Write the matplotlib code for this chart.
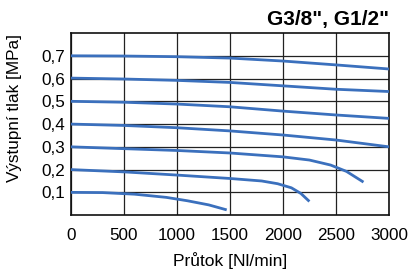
import matplotlib.pyplot as plt
from matplotlib.ticker import FuncFormatter

plt.rcParams['font.family'] = ['Liberation Sans', 'DejaVu Sans']

LINE_COLOR = '#3b70bd'

# flow [Nl/min] and outlet pressure [MPa] for each set pressure
flow_07 = [0, 500, 1000, 1500, 2000, 2500, 3000]
pres_07 = [0.700, 0.699, 0.696, 0.690, 0.677, 0.660, 0.642]

flow_06 = [0, 500, 1000, 1500, 2000, 2500, 3000]
pres_06 = [0.602, 0.598, 0.592, 0.583, 0.568, 0.553, 0.543]

flow_05 = [0, 500, 1000, 1500, 2000, 2500, 3000]
pres_05 = [0.500, 0.496, 0.488, 0.476, 0.457, 0.440, 0.425]

flow_04 = [0, 500, 1000, 1500, 2000, 2500, 3000]
pres_04 = [0.400, 0.394, 0.384, 0.370, 0.352, 0.330, 0.300]

flow_03 = [0, 500, 1000, 1500, 2000, 2250, 2450, 2600, 2760]
pres_03 = [0.300, 0.292, 0.284, 0.273, 0.256, 0.242, 0.220, 0.192, 0.145]

flow_02 = [0, 500, 1000, 1500, 1800, 1950, 2080, 2170, 2250]
pres_02 = [0.200, 0.190, 0.176, 0.161, 0.150, 0.138, 0.120, 0.095, 0.060]

flow_01 = [0, 300, 600, 900, 1100, 1300, 1470]
pres_01 = [0.100, 0.099, 0.092, 0.078, 0.063, 0.045, 0.023]

SERIES = [(flow_07, pres_07), (flow_06, pres_06), (flow_05, pres_05),
          (flow_04, pres_04), (flow_03, pres_03), (flow_02, pres_02),
          (flow_01, pres_01)]

x_ticks = [0, 500, 1000, 1500, 2000, 2500, 3000]
y_ticks = [0.1, 0.2, 0.3, 0.4, 0.5, 0.6, 0.7]

fig = plt.figure(figsize=(4.12, 2.73), dpi=100)
ax = fig.add_axes([0.172, 0.212, 0.772, 0.667])

for flow, pres in SERIES:
    ax.plot(flow, pres, color=LINE_COLOR, linewidth=2.0,
            solid_capstyle='butt', solid_joinstyle='round', zorder=3)

ax.set_xlim(0, 3000)
ax.set_ylim(0, 0.8)
ax.set_xticks(x_ticks)
ax.set_yticks(y_ticks)
ax.yaxis.set_major_formatter(FuncFormatter(lambda v, _: f'{v:.1f}'.replace('.', ',')))
ax.tick_params(length=0, labelsize=12.3)
ax.tick_params(axis='x', pad=9)
ax.tick_params(axis='y', pad=4)
ax.grid(True, color='#222222', linewidth=0.9)
for s in ax.spines.values():
    s.set_color('#111111')
    s.set_linewidth(1.2)

ax.set_xlabel('Průtok [Nl/min]', fontsize=12.5)
ax.xaxis.set_label_coords(0.5, -0.205)
ax.set_ylabel('Výstupní tlak [MPa]', fontsize=12.3)
ax.yaxis.set_label_coords(-0.155, 0.59)
ax.set_title('G3/8", G1/2"', fontsize=15, fontweight='bold', loc='right', pad=6)

plt.savefig('out.png', dpi=100)
